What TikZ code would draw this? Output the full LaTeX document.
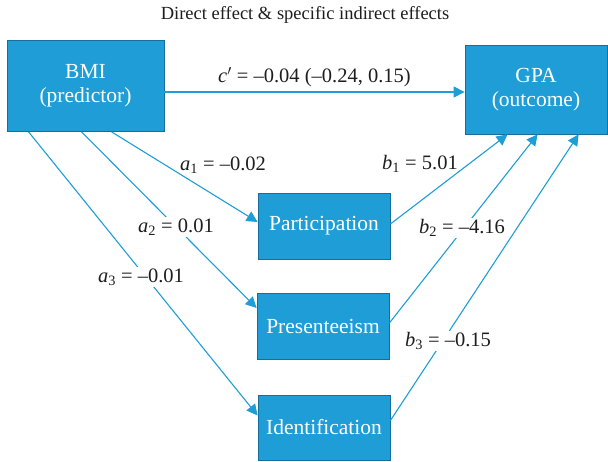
\documentclass[tikz,border=0pt]{standalone}
\usepackage{fontspec}
\setmainfont{Liberation Serif}
\usetikzlibrary{arrows.meta}
\definecolor{cbox}{RGB}{31,157,215}
\definecolor{cedge}{RGB}{24,108,158}
\definecolor{ctext}{RGB}{30,30,30}
\tikzset{medbox/.style={draw=cedge,fill=cbox,text=white,line width=0.8pt,inner sep=0pt,
                        align=center,font=\fontsize{21.5}{24}\selectfont}}
\tikzset{link/.style={cbox,line width=1.1pt,-{Triangle[length=11pt,width=11pt]}},
         coef/.style={text=ctext,inner sep=1.5pt,font=\fontsize{20.5}{24}\selectfont},
         cut/.style={coef,fill=white}}
\newcommand{\sub}[2]{\textit{#1}\textsubscript{#2}}

\begin{document}
\begin{tikzpicture}[x=1pt,y=-1pt]
    \useasboundingbox (0,0) rectangle (608,462);
    \node[text=ctext,font=\fontsize{18.5}{22}\selectfont] (title) at (305,15) {Direct effect \& specific indirect effects};
    % outer boxes
    \node[medbox,minimum width=157pt,minimum height=91pt] (bmi) at (85.5,86) {BMI\\(predictor)};
    \node[medbox,minimum width=142pt,minimum height=89pt] (gpa) at (536,89.5) {GPA\\(outcome)};
    % mediators
    \node[medbox,minimum width=132pt,minimum height=66pt] (part) at (324,226) {Participation};
    \node[medbox,minimum width=132pt,minimum height=66pt] (pres) at (323,326) {Presenteeism};
    \node[medbox,minimum width=132pt,minimum height=65pt] (iden) at (324,427.5) {Identification};
    % direct effect
    \draw[link] ([yshift=-6pt]bmi.east) -- ([yshift=-6pt]bmi.east -| gpa.west)
        node[coef,midway,above=3pt] {\textit{c}$'$ = –0.04 (–0.24, 0.15)};
    % a paths
    \draw[link] ([xshift=105pt]bmi.south west) -- ([yshift=4pt]part.west);
    \draw[link] ([xshift=75pt]bmi.south west) -- ([yshift=18pt]pres.west);
    \draw[link] ([xshift=22pt]bmi.south west) -- ([yshift=12pt]iden.west);
    % b paths
    \draw[link] ([yshift=2pt]part.east) -- ([xshift=43pt]gpa.south west);
    \draw[link] ([yshift=3pt]pres.east) -- ([xshift=73pt]gpa.south west);
    \draw[link] ([yshift=7pt]iden.east) -- ([xshift=114pt]gpa.south west);
    % coefficients
    \node[coef] (a1) at (223,165) {\sub{a}{1} = –0.02};
    \node[cut]  (a2) at (176,227) {\sub{a}{2} = 0.01};
    \node[cut]  (a3) at (141,277) {\sub{a}{3} = –0.01};
    \node[coef] (b1) at (420,164) {\sub{b}{1} = 5.01};
    \node[cut]  (b2) at (462,228) {\sub{b}{2} = –4.16};
    \node[cut]  (b3) at (448,341) {\sub{b}{3} = –0.15};
\end{tikzpicture}
\end{document}
